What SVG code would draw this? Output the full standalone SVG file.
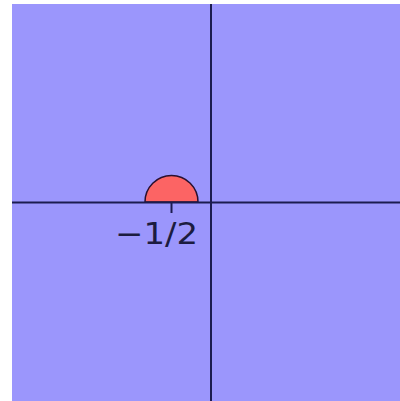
<svg xmlns="http://www.w3.org/2000/svg" width="400" height="401" viewBox="0 0 400 401">
<style>
.axis{stroke:#1c1c50;stroke-width:2;fill:none}
.lbl{font-family:"DejaVu Sans",sans-serif;font-size:30px;fill:#1c1c40}
</style>
<rect x="0" y="0" width="400" height="401" fill="#ffffff"/>
<rect id="plane" x="12" y="4" width="388" height="397" fill="#9b96fc"/>
<path id="halfdisk" d="M145,202 A26.5,26.5 0 0 1 198,202 Z" fill="#fc6464" stroke="#2a1030" stroke-width="1.5"/>
<g id="axes">
<line class="axis" x1="12" y1="202.5" x2="400" y2="202.5"/>
<line class="axis" x1="211" y1="4" x2="211" y2="401"/>
<line class="axis" x1="171.5" y1="202" x2="171.5" y2="213" stroke-width="1.5"/>
</g>
<text class="lbl" x="115" y="244" textLength="83" lengthAdjust="spacingAndGlyphs">−1/2</text>
</svg>
